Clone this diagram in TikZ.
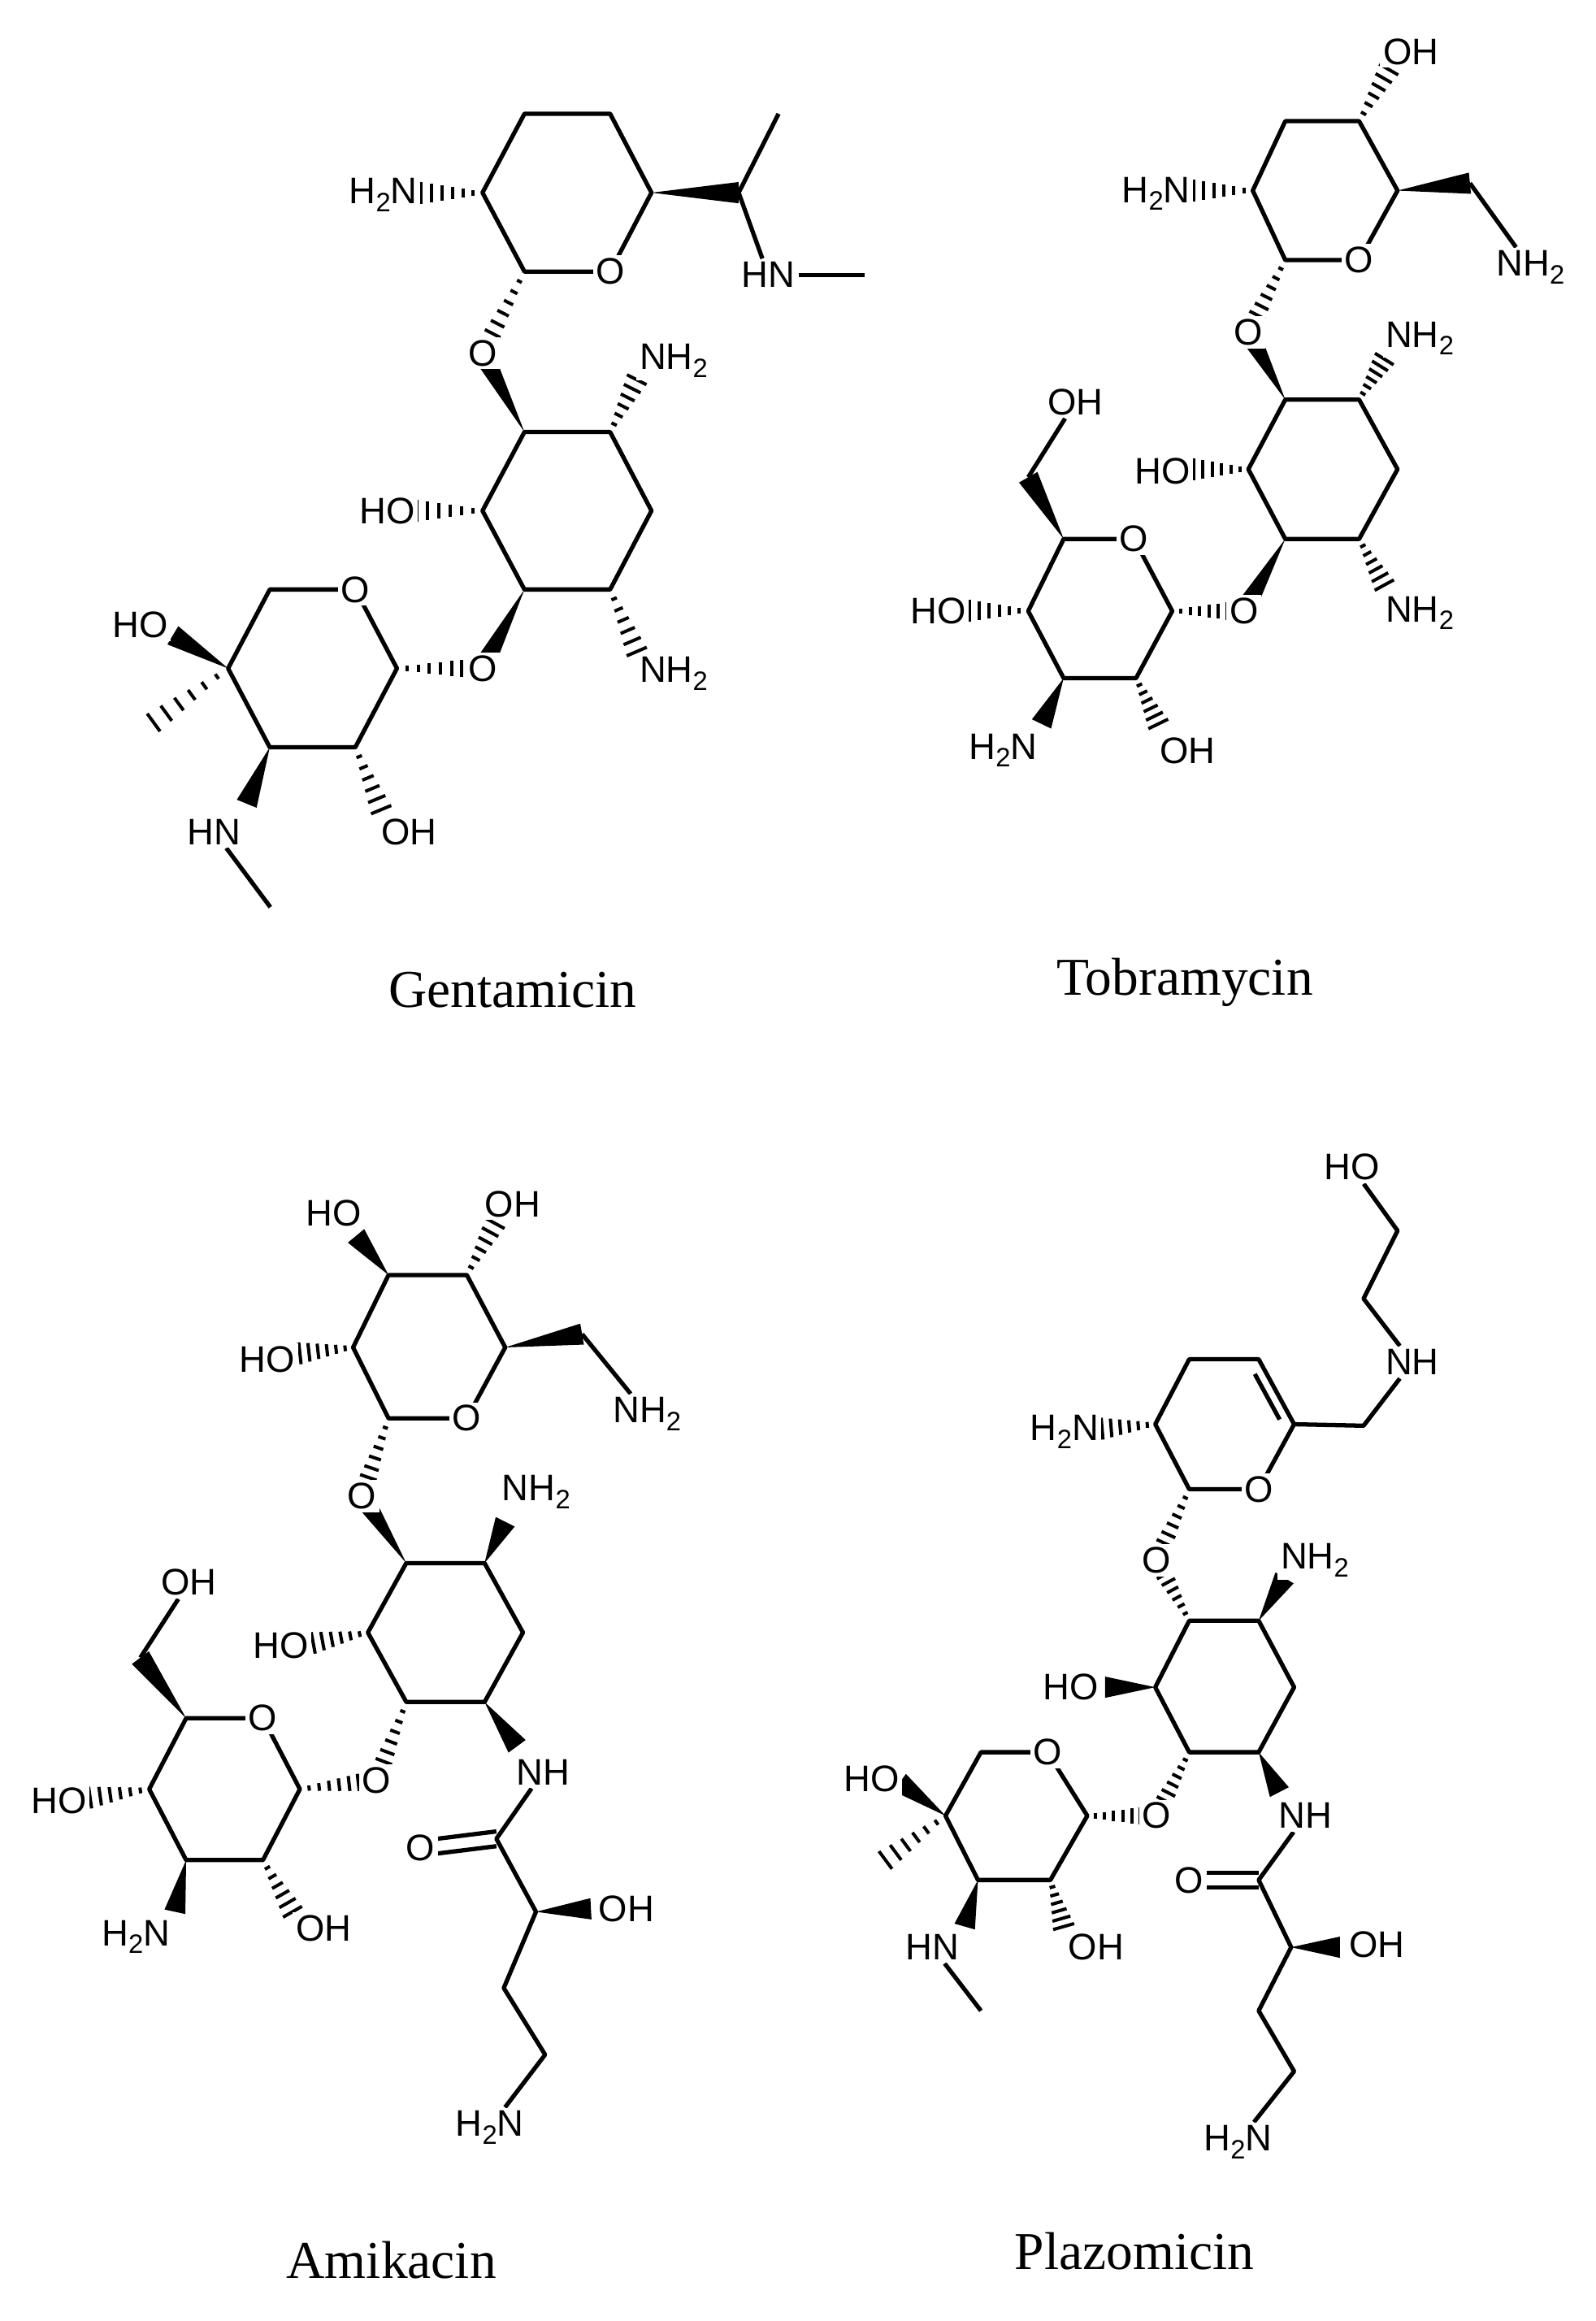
\documentclass[tikz,border=0pt]{standalone}
\usepackage{fontspec}
\setmainfont{Liberation Serif}
\newfontfamily\labfont{Liberation Sans}
\usetikzlibrary{calc}
\pgfdeclarelayer{bg}
\pgfsetlayers{bg,main}
\newcommand\sub[1]{\raisebox{-0.4ex}{\fontsize{9}{9}\selectfont #1}}
\newcommand\wdg[2]{\fill (#1) -- ($(#2)!3.6pt!90:(#1)$) -- ($(#2)!3.6pt!-90:(#1)$) -- cycle;}
\newcommand\hshgen[3]{\foreach \t in {#3}{\pgfmathsetmacro\hl{0.5+3.2*\t}
  \path ($(#1)!\t!(#2)$) coordinate (hp);
  \draw[line width=1.1pt] ($(hp)!\hl pt!90:(#1)$) -- ($(hp)!\hl pt!-90:(#1)$);}}
\newcommand\hsh[2]{\hshgen{#1}{#2}{0.15,0.32,0.49,0.66,0.83,1.0}}
\newcommand\hshL[2]{\hshgen{#1}{#2}{0.12,0.25,0.38,0.51,0.64,0.76}}
\tikzset{lab/.style={font=\labfont\fontsize{12.5}{12.5}\selectfont,fill=white,inner sep=1pt},
 captxt/.style={font=\fontsize{18}{18}\selectfont,inner sep=0pt},
 bond/.style={line width=1.45pt,line join=round}}
\begin{document}
\begin{tikzpicture}[x=0.5pt,y=-0.5pt]
\useasboundingbox (0,0) rectangle (1080,1571);
% ================= Gentamicin =================
\coordinate (g1) at (326.6,130.4); \coordinate (g2) at (355,77); \coordinate (g3) at (413,77);
\coordinate (g4) at (441,130.4); \node[lab] (gO) at (413,183.8) {O}; \coordinate (g6) at (355,183.8);
\coordinate (gN1) at (285,130.4); \node[lab,anchor=east] (gH2N) at (285,132) {H\sub{2}N};
\coordinate (gC) at (500,130.4); \coordinate (gMe) at (527,77);
\node[lab] (gHN1) at (520,186) {HN}; \coordinate (gMe2) at (585,186);
\node[lab] (gO1) at (326.6,239) {O};
\coordinate (m1) at (355,292.4); \coordinate (m2) at (413,292.4); \coordinate (m3) at (441,345.7);
\coordinate (m4) at (413,399); \coordinate (m5) at (355,399); \coordinate (m6) at (326.6,345.7);
\coordinate (mN1) at (431,257); \node[lab] (gNH2a) at (456,244) {NH\sub{2}};
\coordinate (mO) at (282,345.7); \node[lab] (gHOm) at (262,346) {HO};
\coordinate (mN2) at (431,441); \node[lab] (gNH2b) at (456,456) {NH\sub{2}};
\node[lab] (gO2) at (326.6,452.4) {O};
\coordinate (b1) at (182.6,399); \node[lab] (bO) at (240.5,399) {O}; \coordinate (b3) at (268.7,452.4);
\coordinate (b4) at (240.5,505.8); \coordinate (b5) at (182.6,505.8); \coordinate (b6) at (154.4,452.4);
\coordinate (bOH) at (117,430); \node[lab] (gHOb) at (95,423) {HO};
\coordinate (bMe) at (104,489);
\coordinate (bN) at (167,544); \node[lab] (gHN2) at (145,563) {HN}; \coordinate (gMe3) at (183,614);
\coordinate (bO2) at (258,548); \node[lab] (gOHb) at (277,563) {OH};
\node[captxt] at (347,670) {Gentamicin};
\begin{pgfonlayer}{bg}
\draw[bond] (g1)--(g2)--(g3)--(g4)--(gO.center)--(g6)--cycle;
\draw[bond] (m1)--(m2)--(m3)--(m4)--(m5)--(m6)--cycle;
\draw[bond] (b1)--(bO.center)--(b3)--(b4)--(b5)--(b6)--cycle;
\hsh{g1}{gN1} \wdg{g4}{gC} \draw[bond] (gMe)--(gC)--(gHN1); \draw[bond] (gHN1)--(gMe2);
\hshL{g6}{gO1} \wdg{m1}{gO1}
\hsh{m2}{mN1} \hsh{m6}{mO} \hsh{m4}{mN2}
\wdg{m5}{gO2} \hshL{b3}{gO2}
\wdg{b6}{bOH} \hsh{b6}{bMe} \wdg{b5}{bN} \draw[bond] (gHN2)--(gMe3); \hsh{b4}{bO2}
\end{pgfonlayer}
% ================= Tobramycin =================
\coordinate (t1) at (848,129); \coordinate (t2) at (870,82); \coordinate (t3) at (920,82);
\coordinate (t4) at (946,129); \node[lab] (tO) at (920,176) {O}; \coordinate (t6) at (870,176);
\coordinate (tOHe) at (940,47); \node[lab] (tOH) at (955,35) {OH};
\coordinate (tNe) at (808,129); \node[lab,anchor=east] (tH2N) at (808,131) {H\sub{2}N};
\coordinate (tC) at (995,124); \node[lab] (tNH2) at (1036,181) {NH\sub{2}};
\node[lab] (tO1) at (845,225) {O};
\coordinate (u1) at (870,270.5); \coordinate (u2) at (920,270.5); \coordinate (u3) at (946,317.6);
\coordinate (u4) at (920,364.8); \coordinate (u5) at (870,364.8); \coordinate (u6) at (845,317.6);
\coordinate (uN1) at (937,243); \node[lab] (tNH2a) at (961,229) {NH\sub{2}};
\coordinate (uOe) at (808,317.6); \node[lab] (tHOm) at (787,319) {HO};
\coordinate (uN2) at (937,396); \node[lab] (tNH2b) at (961,415) {NH\sub{2}};
\node[lab] (tO2) at (842,413.6) {O};
\coordinate (v1) at (720,364.8); \node[lab] (vO) at (767.6,364.8) {O}; \coordinate (v3) at (793.5,413.6);
\coordinate (v4) at (769,459); \coordinate (v5) at (720,459); \coordinate (v6) at (696,413.6);
\coordinate (vC) at (696,323); \node[lab] (tOHl) at (728,272) {OH};
\coordinate (vOe) at (656,413.6); \node[lab] (tHOl) at (635,413.6) {HO};
\coordinate (vN) at (705,490); \node[lab] (tH2Nb) at (679,508) {H\sub{2}N};
\coordinate (vOb) at (784,490); \node[lab] (tOHb) at (804,508) {OH};
\node[captxt] at (802,665) {Tobramycin};
\begin{pgfonlayer}{bg}
\draw[bond] (t1)--(t2)--(t3)--(t4)--(tO.center)--(t6)--cycle;
\draw[bond] (u1)--(u2)--(u3)--(u4)--(u5)--(u6)--cycle;
\draw[bond] (v1)--(vO.center)--(v3)--(v4)--(v5)--(v6)--cycle;
\hsh{t3}{tOHe} \hsh{t1}{tNe} \wdg{t4}{tC} \draw[bond] (tC)--(tNH2);
\hshL{t6}{tO1} \wdg{u1}{tO1}
\hsh{u2}{uN1} \hsh{u6}{uOe} \hsh{u4}{uN2}
\wdg{u5}{tO2} \hshL{v3}{tO2}
\wdg{v1}{vC} \draw[bond] (vC)--(tOHl); \hsh{v6}{vOe} \wdg{v5}{vN} \hsh{v4}{vOb}
\end{pgfonlayer}
% ================= Amikacin =================
\coordinate (A1) at (263,863); \coordinate (A2) at (316,863); \coordinate (A3) at (342,912);
\node[lab] (AO) at (316,960) {O}; \coordinate (A5) at (263,960); \coordinate (A6) at (239,912);
\coordinate (A1e) at (241,836.5); \node[lab] (aHO1) at (226,821) {HO};
\coordinate (A2e) at (335,828); \node[lab] (aOH1) at (347,815) {OH};
\coordinate (A6e) at (203,916); \node[lab] (aHO2) at (181,920) {HO};
\coordinate (AC) at (394,903); \node[lab] (aNH2a) at (438,957) {NH\sub{2}};
\node[lab] (aO1) at (245,1012.6) {O};
\coordinate (B1) at (275,1058); \coordinate (B2) at (328,1058); \coordinate (B3) at (354,1105);
\coordinate (B4) at (328,1152); \coordinate (B5) at (275,1152); \coordinate (B6) at (249,1105);
\coordinate (B2e) at (342,1030); \node[lab] (aNH2b) at (363,1010) {NH\sub{2}};
\coordinate (B6e) at (212,1112); \node[lab] (aHO3) at (190,1113.6) {HO};
\node[lab] (aO2) at (255,1205) {O};
\coordinate (B4e) at (350,1182); \node[lab] (aNH) at (367.5,1199.5) {NH};
\coordinate (aCc) at (336,1244.6); \node[lab] (aOc) at (284.5,1251) {O};
\coordinate (aCh) at (362.8,1294); \coordinate (aChe) at (400,1292); \node[lab] (aOH2) at (424,1292) {OH};
\coordinate (aC3) at (341,1345.6); \coordinate (aC4) at (369,1390.7); \node[lab] (aH2N) at (331.5,1440) {H\sub{2}N};
\coordinate (C1) at (126,1163); \node[lab] (CO) at (178,1163) {O}; \coordinate (C3) at (203,1211);
\coordinate (C4) at (178,1259); \coordinate (C5) at (126,1259); \coordinate (C6) at (101,1211);
\coordinate (C1e) at (95,1122); \node[lab] (aOH3) at (128,1071) {OH};
\coordinate (C6e) at (61,1216.7); \node[lab] (aHO4) at (40,1219) {HO};
\coordinate (C5e) at (118.4,1294); \node[lab] (aH2Nb) at (92,1311) {H\sub{2}N};
\coordinate (C4e) at (198,1294); \node[lab] (aOH4) at (219,1305) {OH};
\node[captxt] at (265,1530) {Amikacin};
\begin{pgfonlayer}{bg}
\draw[bond] (A1)--(A2)--(A3)--(AO.center)--(A5)--(A6)--cycle;
\draw[bond] (B1)--(B2)--(B3)--(B4)--(B5)--(B6)--cycle;
\draw[bond] (C1)--(CO.center)--(C3)--(C4)--(C5)--(C6)--cycle;
\wdg{A1}{A1e} \hsh{A2}{A2e} \hsh{A6}{A6e} \wdg{A3}{AC} \draw[bond] (AC)--(aNH2a);
\hshL{A5}{aO1} \wdg{B1}{aO1}
\wdg{B2}{B2e} \hsh{B6}{B6e} \hshL{B5}{aO2} \hshL{C3}{aO2}
\wdg{B4}{B4e}
\draw[bond] (aNH)--(aCc)--(aCh)--(aC3)--(aC4)--(aH2N);
\draw[bond] ([yshift=2.5pt]aCc)--([yshift=2.5pt]aOc.center);
\draw[bond] ([yshift=-2.5pt]aCc)--([yshift=-2.5pt]aOc.center);
\wdg{aCh}{aChe}
\wdg{C1}{C1e} \draw[bond] (C1e)--(aOH3); \hsh{C6}{C6e} \wdg{C5}{C5e} \hsh{C4}{C4e}
\end{pgfonlayer}
% ================= Plazomicin =================
\coordinate (P1) at (782,964); \coordinate (P2) at (805,920); \coordinate (P3) at (852,920);
\coordinate (P4) at (876,964); \node[lab] (PO) at (852,1008) {O}; \coordinate (P6) at (805,1008);
\coordinate (P1e) at (746,967); \node[lab,anchor=east] (pH2N) at (746,969) {H\sub{2}N};
\coordinate (pC) at (923,965); \node[lab] (pNH) at (956,922) {NH};
\coordinate (pC2) at (923,879); \coordinate (pC3) at (946,833); \node[lab] (pHO) at (915,790) {HO};
\node[lab] (pO1) at (783,1056) {O};
\coordinate (Q1) at (805,1097); \coordinate (Q2) at (852,1097); \coordinate (Q3) at (876,1142);
\coordinate (Q4) at (852,1186); \coordinate (Q5) at (805,1186); \coordinate (Q6) at (782,1142);
\coordinate (Q2e) at (869.5,1068); \node[lab] (pNH2) at (890,1056) {NH\sub{2}};
\coordinate (Q6e) at (748,1142); \node[lab] (pHO2) at (725,1142) {HO};
\node[lab] (pO2) at (783,1229) {O};
\coordinate (Q4e) at (866,1213); \node[lab] (pNH3) at (883.6,1229) {NH};
\coordinate (pCc) at (852,1272.5); \node[lab] (pOc) at (805,1272.5) {O};
\coordinate (pCh) at (874,1318); \coordinate (pChe) at (907,1318); \node[lab] (pOH) at (932,1316) {OH};
\coordinate (pC4) at (852,1361); \coordinate (pC5) at (876,1402); \node[lab] (pH2Nb) at (838,1450) {H\sub{2}N};
\coordinate (R1) at (664,1186); \node[lab] (RO) at (709,1186) {O}; \coordinate (R3) at (736,1229);
\coordinate (R4) at (711,1272.5); \coordinate (R5) at (662,1272.5); \coordinate (R6) at (640,1229);
\coordinate (R6e) at (609,1206.5); \node[lab] (pHO3) at (590,1204) {HO};
\coordinate (R6m) at (599.4,1259);
\coordinate (R5e) at (653,1304); \node[lab] (pHN) at (631,1318) {HN}; \coordinate (pMe) at (664,1361);
\coordinate (R4e) at (720,1304); \node[lab] (pOH2) at (742,1318) {OH};
\node[captxt] at (768,1524) {Plazomicin};
\begin{pgfonlayer}{bg}
\draw[bond] (P1)--(P2)--(P3)--(P4)--(PO.center)--(P6)--cycle;
\draw[bond] (849.4,930)--(866.2,960.8);
\draw[bond] (Q1)--(Q2)--(Q3)--(Q4)--(Q5)--(Q6)--cycle;
\draw[bond] (R1)--(RO.center)--(R3)--(R4)--(R5)--(R6)--cycle;
\hsh{P1}{P1e} \draw[bond] (P4)--(pC)--(pNH); \draw[bond] (pNH)--(pC2)--(pC3)--(pHO);
\hshL{P6}{pO1} \hshL{Q1}{pO1}
\wdg{Q2}{Q2e} \wdg{Q6}{Q6e} \hshL{Q5}{pO2} \hshL{R3}{pO2} \wdg{Q4}{Q4e}
\draw[bond] (pNH3)--(pCc)--(pCh)--(pC4)--(pC5)--(pH2Nb);
\draw[bond] ([yshift=2.5pt]pCc)--([yshift=2.5pt]pOc.center);
\draw[bond] ([yshift=-2.5pt]pCc)--([yshift=-2.5pt]pOc.center);
\wdg{pCh}{pChe}
\wdg{R6}{R6e} \hsh{R6}{R6m} \wdg{R5}{R5e} \draw[bond] (pHN)--(pMe); \hsh{R4}{R4e}
\end{pgfonlayer}
\end{tikzpicture}
\end{document}
